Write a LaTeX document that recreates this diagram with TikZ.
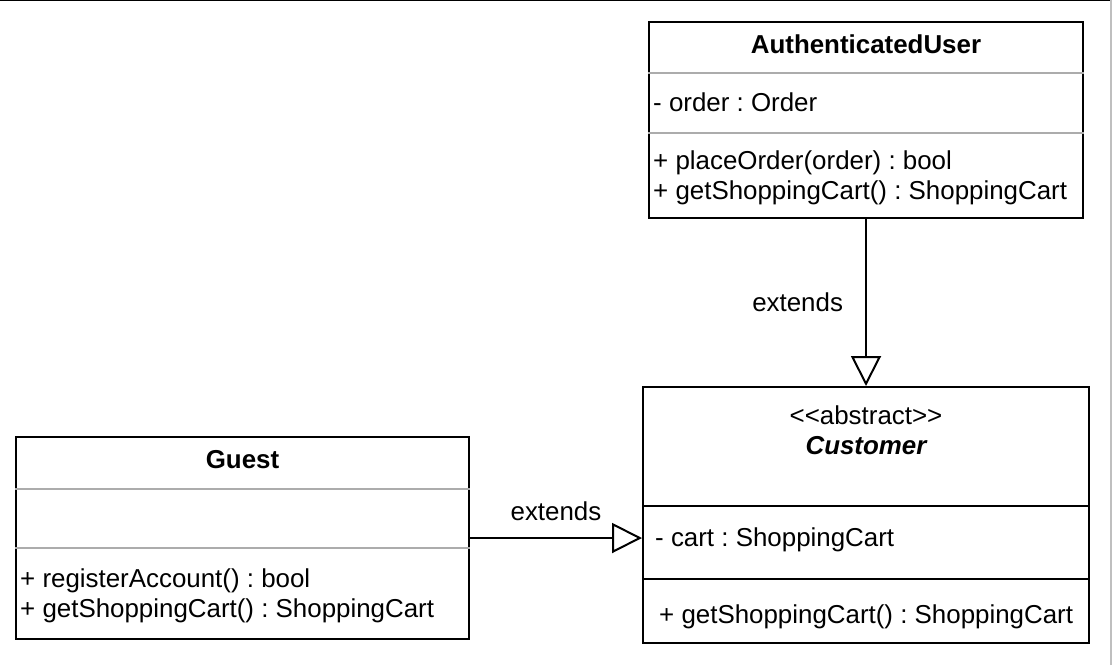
\documentclass[tikz,border=0pt]{standalone}
\usepackage{fontspec}
\setmainfont{Liberation Sans}
\frenchspacing
\usetikzlibrary{positioning,arrows.meta}
\tikzset{diagram/.style={x=1pt,y=-1pt,font=\fontsize{25.9}{31}\selectfont}}
\tikzset{umlclass/.style={draw,line width=2pt,inner sep=0pt}}
\tikzset{member/.style={anchor=base west,inner sep=0pt}}
\tikzset{classname/.style={anchor=base,inner sep=0pt,font=\fontsize{25.9}{31}\selectfont\bfseries}}
\tikzset{divider/.style={line width=2pt,draw=gray!65}}
\tikzset{extends/.style={-{Triangle[open,length=30pt,width=30pt]},line width=2pt}}

\begin{document}
\begin{tikzpicture}[diagram]
  \useasboundingbox (0,0) rectangle (1112,665);
  \draw[line width=2pt] (0,0) -- (1112,0);
  \draw[line width=1.5pt,gray!50] (1111,0) -- (1111,665);
  % classes
  \node[umlclass,minimum width=434,minimum height=196] (user) at (866,120) {};
  \node[umlclass,minimum width=446,minimum height=256] (customer) at (866,515) {};
  \node[umlclass,minimum width=453,minimum height=202] (guest) at (242.5,538) {};
  % AuthenticatedUser
  \node[classname] (userName) at (866,53) {AuthenticatedUser};
  \draw[divider] (user.west |- 0,72.5) -- (user.east |- 0,72.5);
  \node[member] (userOrder) at (653,111) {- order : Order};
  \draw[divider] (user.west |- 0,133) -- (user.east |- 0,133);
  \node[member] (userPlace) at (653,169) {+ placeOrder(order) : bool};
  \node[member] (userCart) at (653,199.5) {+ getShoppingCart() : ShoppingCart};
  % Customer
  \node[anchor=base,inner sep=0pt] (customerStereo) at (866,424) {<{}<abstract>{}>};
  \node[classname,font=\fontsize{25.9}{31}\selectfont\bfseries\itshape] (customerName) at (866,454) {Customer};
  \draw[line width=2pt] (customer.west |- 0,506) -- (customer.east |- 0,506);
  \node[member] (customerCart) at (655,546) {- cart : ShoppingCart};
  \draw[line width=2pt] (customer.west |- 0,579) -- (customer.east |- 0,579);
  \node[member] (customerGet) at (659,623) {+ getShoppingCart() : ShoppingCart};
  % Guest
  \node[classname] (guestName) at (242.5,468) {Guest};
  \draw[divider] (guest.west |- 0,489) -- (guest.east |- 0,489);
  \draw[divider] (guest.west |- 0,548) -- (guest.east |- 0,548);
  \node[member] (guestRegister) at (20,587) {+ registerAccount() : bool};
  \node[member] (guestCart) at (20,617) {+ getShoppingCart() : ShoppingCart};
  % generalisations
  \path[extends]
    (user.south) edge node[midway,left=22pt,inner sep=0pt]{extends} (customer.north)
    (guest.east) edge node[midway,above=16pt,inner sep=0pt]{extends} (guest.east -| customer.west);
\end{tikzpicture}
\end{document}
